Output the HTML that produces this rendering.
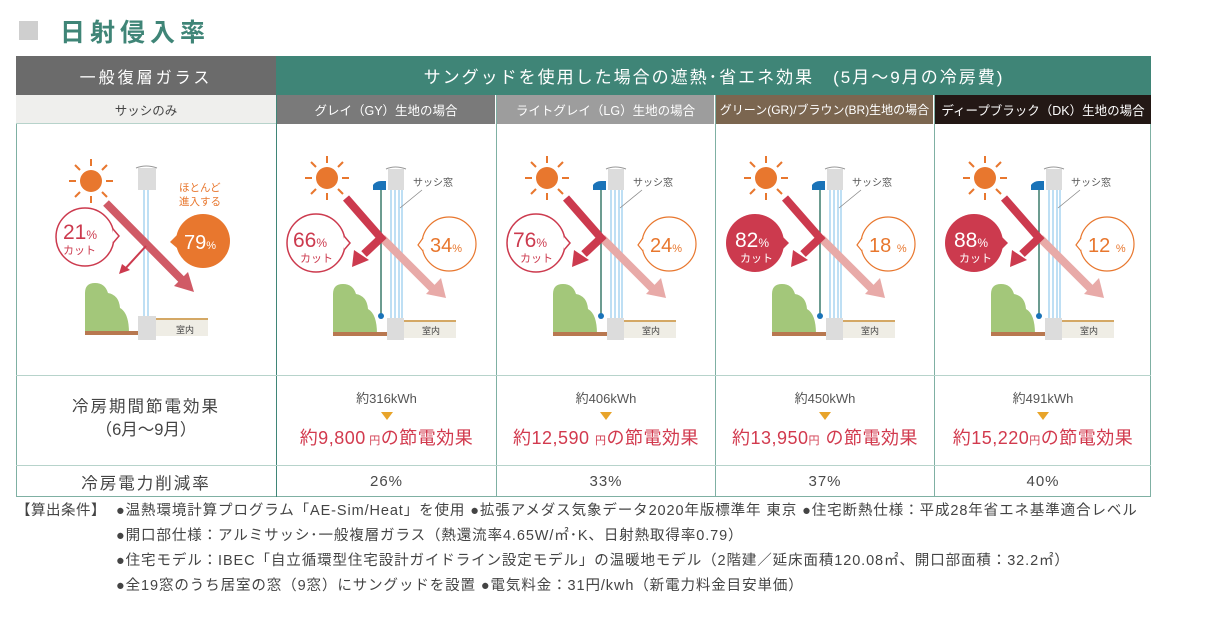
<!DOCTYPE html>
<html><head><meta charset="utf-8">
<style>
*{margin:0;padding:0;box-sizing:border-box}
body{width:1232px;height:618px;background:#fff;position:relative;overflow:hidden;font-family:"Liberation Sans","Noto Sans CJK JP",sans-serif;color:#4a4a4a}
.a{position:absolute}
.c{position:absolute;display:flex;align-items:center;justify-content:center;text-align:center;white-space:nowrap}
.vl{position:absolute;width:1px;background:#7fb0a3}
.hl{position:absolute;height:1px;background:#b7d3cb}
.kwh{font-size:13px;color:#555}
.tri{width:0;height:0;border-left:6px solid transparent;border-right:6px solid transparent;border-top:8px solid #e8a42a;margin:5px auto 4px}
.yen{font-size:18px;color:#d23a4e;letter-spacing:0.5px}
.yen small{font-size:11px}
.note{position:absolute;font-size:14.5px;color:#444;white-space:nowrap;letter-spacing:0.9px}
</style></head><body>
<div class="a" style="left:19px;top:21px;width:19px;height:19px;background:#cfcfcf"></div>
<div class="a" style="left:60px;top:13px;font-size:25px;color:#3f8577;letter-spacing:5px;font-weight:bold">日射侵入率</div>

<div class="a" style="left:16px;top:56px;width:1135px;height:441px;border:1px solid #7fb0a3"></div>
<div class="c" style="left:16px;top:56px;width:260px;height:39px;background:#6b6b6b;color:#fff;font-size:16px;letter-spacing:3px">一般復層ガラス</div>
<div class="c" style="left:277px;top:56px;width:874px;height:39px;background:#3f8577;color:#fff;font-size:17px;letter-spacing:2px">サングッドを使用した場合の遮熱･省エネ効果　(5月～9月の冷房費)</div>
<div class="c" style="left:16px;top:95px;width:260px;height:29px;background:#efefed;color:#444;font-size:12.5px;border-bottom:1px solid #b7d3cb">サッシのみ</div>
<div class="c" style="left:277px;top:95px;width:218px;height:29px;background:#7a7a7a;color:#fff;font-size:12.5px">グレイ（GY）生地の場合</div>
<div class="c" style="left:497px;top:95px;width:217px;height:29px;background:#9d9d9d;color:#fff;font-size:12.5px">ライトグレイ（LG）生地の場合</div>
<div class="c" style="left:716px;top:95px;width:217px;height:29px;background:#7b6650;color:#fff;font-size:12px">グリーン(GR)/ブラウン(BR)生地の場合</div>
<div class="c" style="left:935px;top:95px;width:216px;height:29px;background:#231815;color:#fff;font-size:12.5px">ディープブラック（DK）生地の場合</div>
<div class="vl" style="left:276px;top:56px;height:441px;background:#3f8577"></div>
<div class="vl" style="left:496px;top:95px;height:402px"></div>
<div class="vl" style="left:715px;top:95px;height:402px"></div>
<div class="vl" style="left:934px;top:95px;height:402px"></div>
<div class="hl" style="left:16px;top:375px;width:1135px"></div>
<div class="hl" style="left:16px;top:465px;width:1135px"></div>

<svg class="a" style="left:0;top:0" width="1232" height="618">
<defs>
<g id="sun">
<circle cx="0" cy="0" r="11" fill="#e8772e"/>
<g stroke="#e8772e" stroke-width="2">
<line x1="0" y1="-15" x2="0" y2="-22"/><line x1="0" y1="15" x2="0" y2="22"/>
<line x1="-15" y1="0" x2="-22" y2="0"/><line x1="15" y1="0" x2="22" y2="0"/>
<line x1="11" y1="-11" x2="16" y2="-16"/><line x1="-11" y1="-11" x2="-16" y2="-16"/>
<line x1="11" y1="11" x2="16" y2="16"/><line x1="-11" y1="11" x2="-16" y2="16"/>
</g></g>
<path id="bush" d="M0 50 L0 10 q0-10 10-10 q10 0 13 10 q11 2 12 15 q9 5 9 25Z" fill="#a3c77a"/>
<g id="ill">
<use href="#sun" x="51" y="54"/>
<use href="#bush" x="57" y="160"/>
<rect x="57" y="208" width="56" height="4" fill="#b87850"/>
<rect x="128" y="196" width="52" height="18" fill="#efede5"/>
<line x1="128" y1="197" x2="180" y2="197" stroke="#d4a865" stroke-width="2"/>
<rect x="112" y="45" width="16" height="21" fill="#dcdcdc"/>
<path d="M110 45 q9-4 20 0" stroke="#999" fill="none"/>
<g stroke="#a8d4f0" stroke-width="1.5"><line x1="115" y1="66" x2="115" y2="194"/><line x1="119" y1="66" x2="119" y2="194"/><line x1="123" y1="66" x2="123" y2="194"/><line x1="126" y1="66" x2="126" y2="194"/></g>
<rect x="111" y="194" width="17" height="22" fill="#dcdcdc"/>
<path d="M97 66 L97 61 q3-4 8-4 L110 57 L110 66Z" fill="#1a73b8"/>
<line x1="105" y1="66" x2="105" y2="192" stroke="#3a7a6a" stroke-width="1.5"/>
<circle cx="105" cy="192" r="3" fill="#1a73b8"/>
<line x1="124" y1="84" x2="146" y2="66" stroke="#888" stroke-width="0.8"/>
<line x1="106" y1="114" x2="158" y2="166" stroke="#e8aaa8" stroke-width="8"/>
<path d="M150 170 L170 174 L165 154Z" fill="#e8aaa8"/>
<polyline points="70,74 105,114 88,130" fill="none" stroke="#cc3a4e" stroke-width="8"/>
<path d="M78 126 L76 143 L93 136Z" fill="#cc3a4e"/>
</g>
</defs>

<g transform="translate(16,124)">
<use href="#sun" x="75" y="57"/>
<use href="#bush" x="69" y="159"/>
<rect x="69" y="207" width="56" height="4" fill="#b87850"/>
<rect x="140" y="194" width="52" height="18" fill="#efede5"/>
<line x1="140" y1="195" x2="192" y2="195" stroke="#d4a865" stroke-width="2"/>
<rect x="122" y="44" width="18" height="22" fill="#dcdcdc"/>
<path d="M120 44 q10-4 21 0" stroke="#999" fill="none"/>
<g stroke="#a8d4f0" stroke-width="1.5"><line x1="128" y1="66" x2="128" y2="192"/><line x1="132" y1="66" x2="132" y2="192"/></g>
<rect x="122" y="192" width="18" height="24" fill="#dcdcdc"/>
<line x1="90" y1="79" x2="168" y2="158" stroke="#d05a66" stroke-width="8"/>
<path d="M158 162 L178 168 L172 148Z" fill="#d05a66"/>
<line x1="130" y1="122" x2="108" y2="146" stroke="#cc3a4e" stroke-width="2"/>
<path d="M103 150 L106 140 L114 146Z" fill="#cc3a4e"/>
<circle cx="69" cy="113" r="29" fill="#fff" stroke="#cc3a4e" stroke-width="1.5"/>
<path d="M97 105 L103 112 L97 119" fill="#fff" stroke="#cc3a4e" stroke-width="1.5"/>
<circle cx="187" cy="117" r="27" fill="#e8772e"/>
<path d="M161 111 L154 118 L161 124Z" fill="#e8772e"/>
<text x="163" y="67" font-size="10.5" fill="#e8772e">ほとんど</text>
<text x="163" y="81" font-size="10.5" fill="#e8772e">進入する</text>
<text x="47" y="115" font-size="21" fill="#cc3a4e">21<tspan font-size="12">%</tspan></text>
<text x="47" y="130" font-size="11" fill="#cc3a4e">カット</text>
<text x="168" y="125" font-size="20" fill="#fff">79<tspan font-size="11">%</tspan></text>
<text x="160" y="209" font-size="9" fill="#444">室内</text>
</g>

<g transform="translate(276,124)">
<use href="#ill"/>
<circle cx="40" cy="119" r="29" fill="#fff" stroke="#cc3a4e" stroke-width="1.5"/>
<path d="M68 112 L74 119 L68 126" fill="#fff" stroke="#cc3a4e" stroke-width="1.5"/>
<circle cx="173" cy="120" r="27" fill="#fff" stroke="#e8772e" stroke-width="1.2"/>
<path d="M147 114 L142 121 L147 127" fill="#fff" stroke="#e8772e" stroke-width="1.2"/>
<text x="17" y="123" font-size="21" fill="#cc3a4e">66<tspan font-size="12">%</tspan></text>
<text x="24" y="138" font-size="11" fill="#cc3a4e">カット</text>
<text x="154" y="128" font-size="20" fill="#e8772e">34<tspan font-size="11">%</tspan></text>
<text x="137" y="62" font-size="10" fill="#555">サッシ窓</text>
<text x="146" y="210" font-size="9" fill="#444">室内</text>
</g>
<g transform="translate(496,124)">
<use href="#ill"/>
<circle cx="40" cy="119" r="29" fill="#fff" stroke="#cc3a4e" stroke-width="1.5"/>
<path d="M68 112 L74 119 L68 126" fill="#fff" stroke="#cc3a4e" stroke-width="1.5"/>
<circle cx="173" cy="120" r="27" fill="#fff" stroke="#e8772e" stroke-width="1.2"/>
<path d="M147 114 L142 121 L147 127" fill="#fff" stroke="#e8772e" stroke-width="1.2"/>
<text x="17" y="123" font-size="21" fill="#cc3a4e">76<tspan font-size="12">%</tspan></text>
<text x="24" y="138" font-size="11" fill="#cc3a4e">カット</text>
<text x="154" y="128" font-size="20" fill="#e8772e">24<tspan font-size="11">%</tspan></text>
<text x="137" y="62" font-size="10" fill="#555">サッシ窓</text>
<text x="146" y="210" font-size="9" fill="#444">室内</text>
</g>
<g transform="translate(715,124)">
<use href="#ill"/>
<circle cx="40" cy="119" r="29" fill="#cc3a4e"/>
<path d="M67 112 L74 119 L67 126Z" fill="#cc3a4e"/>
<circle cx="173" cy="120" r="27" fill="#fff" stroke="#e8772e" stroke-width="1.2"/>
<path d="M147 114 L142 121 L147 127" fill="#fff" stroke="#e8772e" stroke-width="1.2"/>
<text x="20" y="123" font-size="21" fill="#fff">82<tspan font-size="12">%</tspan></text>
<text x="25" y="138" font-size="11" fill="#fff">カット</text>
<text x="154" y="128" font-size="20" fill="#e8772e">18 <tspan font-size="11">%</tspan></text>
<text x="137" y="62" font-size="10" fill="#555">サッシ窓</text>
<text x="146" y="210" font-size="9" fill="#444">室内</text>
</g>
<g transform="translate(934,124)">
<use href="#ill"/>
<circle cx="40" cy="119" r="29" fill="#cc3a4e"/>
<path d="M67 112 L74 119 L67 126Z" fill="#cc3a4e"/>
<circle cx="173" cy="120" r="27" fill="#fff" stroke="#e8772e" stroke-width="1.2"/>
<path d="M147 114 L142 121 L147 127" fill="#fff" stroke="#e8772e" stroke-width="1.2"/>
<text x="20" y="123" font-size="21" fill="#fff">88<tspan font-size="12">%</tspan></text>
<text x="25" y="138" font-size="11" fill="#fff">カット</text>
<text x="154" y="128" font-size="20" fill="#e8772e">12 <tspan font-size="11">%</tspan></text>
<text x="137" y="62" font-size="10" fill="#555">サッシ窓</text>
<text x="146" y="210" font-size="9" fill="#444">室内</text>
</g>
</svg>

<div class="c" style="left:16px;top:396px;width:260px;flex-direction:column;font-size:16.5px;letter-spacing:2px;line-height:23px;color:#444">冷房期間節電効果<span style="letter-spacing:0">（6月～9月）</span></div>
<div class="a" style="left:277px;top:388px;width:219px;text-align:center"><div class="kwh">約316kWh</div><div class="tri"></div><div class="yen">約9,800<small> 円</small>の節電効果</div></div>
<div class="a" style="left:497px;top:388px;width:218px;text-align:center"><div class="kwh">約406kWh</div><div class="tri"></div><div class="yen">約12,590 <small> 円</small>の節電効果</div></div>
<div class="a" style="left:716px;top:388px;width:218px;text-align:center"><div class="kwh">約450kWh</div><div class="tri"></div><div class="yen">約13,950<small>円</small> の節電効果</div></div>
<div class="a" style="left:935px;top:388px;width:216px;text-align:center"><div class="kwh">約491kWh</div><div class="tri"></div><div class="yen">約15,220<small>円</small>の節電効果</div></div>

<div class="c" style="left:16px;top:466px;width:260px;height:31px;font-size:16.5px;letter-spacing:2px;color:#444">冷房電力削減率</div>
<div class="c" style="left:277px;top:466px;width:219px;height:31px;font-size:15px;letter-spacing:1px">26%</div>
<div class="c" style="left:497px;top:466px;width:218px;height:31px;font-size:15px;letter-spacing:1px">33%</div>
<div class="c" style="left:716px;top:466px;width:218px;height:31px;font-size:15px;letter-spacing:1px">37%</div>
<div class="c" style="left:935px;top:466px;width:216px;height:31px;font-size:15px;letter-spacing:1px">40%</div>

<div class="note" style="left:16px;top:499px;letter-spacing:0.5px">【算出条件】</div>
<div class="note" style="left:116px;top:499px">●温熱環境計算プログラム「AE-Sim/Heat」を使用 ●拡張アメダス気象データ2020年版標準年 東京 ●住宅断熱仕様：平成28年省エネ基準適合レベル</div>
<div class="note" style="left:116px;top:524px">●開口部仕様：アルミサッシ･一般複層ガラス（熱還流率4.65W/㎡･K、日射熱取得率0.79）</div>
<div class="note" style="left:116px;top:549px">●住宅モデル：IBEC「自立循環型住宅設計ガイドライン設定モデル」の温暖地モデル（2階建／延床面積120.08㎡、開口部面積：32.2㎡）</div>
<div class="note" style="left:116px;top:574px">●全19窓のうち居室の窓（9窓）にサングッドを設置 ●電気料金：31円/kwh（新電力料金目安単価）</div>
</body></html>
